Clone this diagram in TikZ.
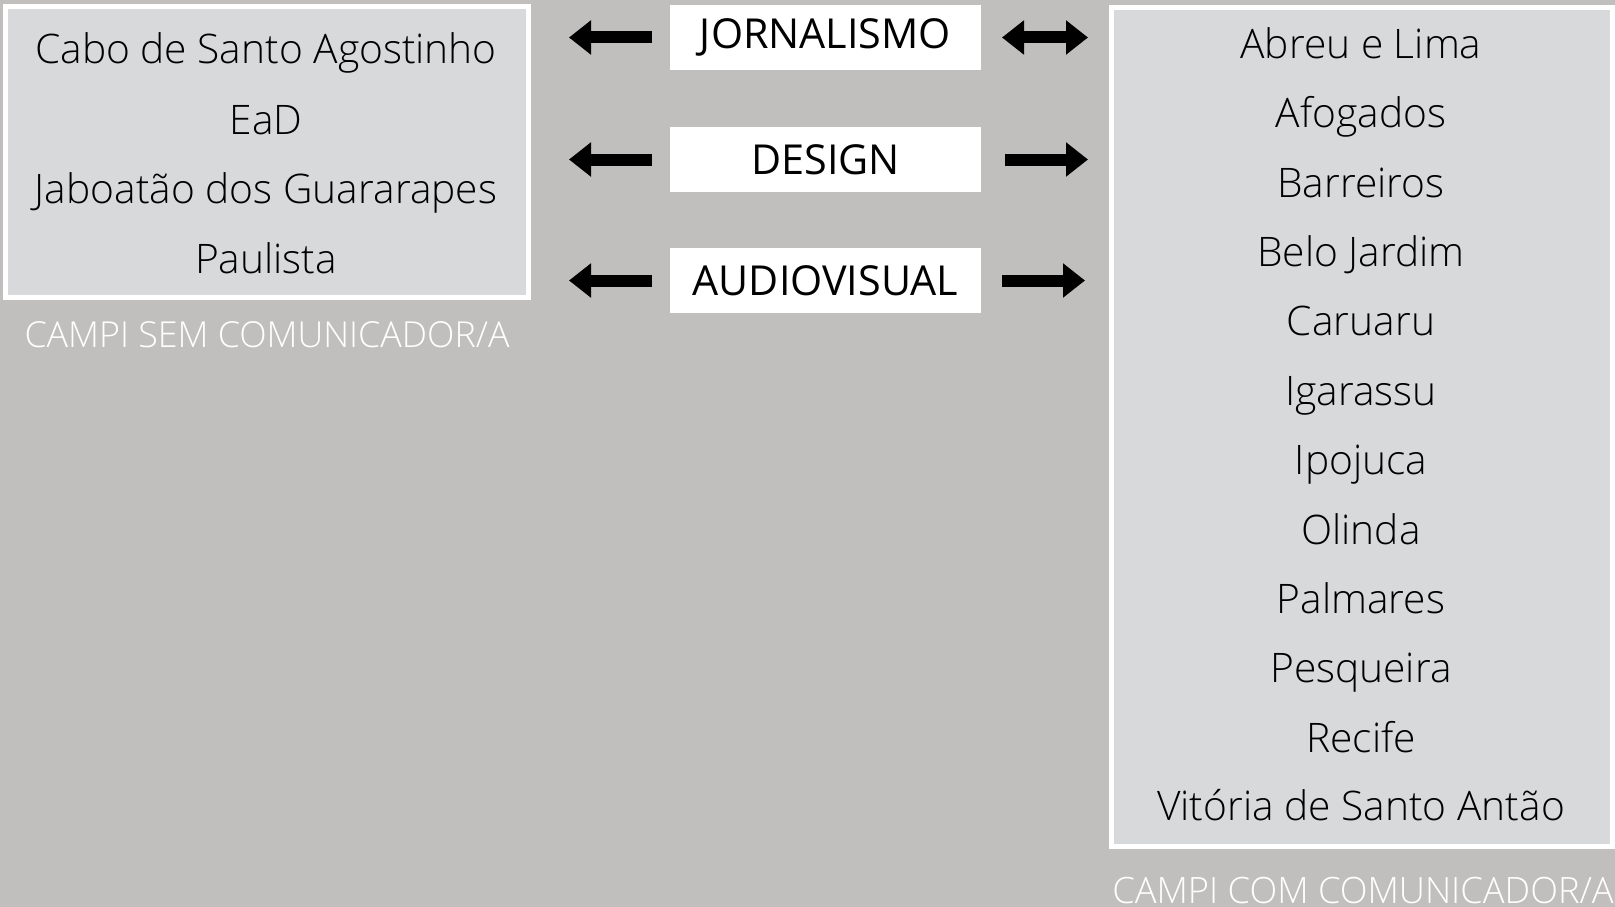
\documentclass[tikz,border=0pt]{standalone}
\usepackage{fontspec}
\setmainfont{Open Sans Light}
\newfontfamily\regfont{Open Sans}
\usetikzlibrary{arrows.meta}
\definecolor{bggrey}{RGB}{192,191,189}
\definecolor{boxgrey}{RGB}{216,217,219}
\tikzset{
  panel/.style={draw=white, line width=5pt, fill=boxgrey, inner sep=0pt, outer sep=0pt},
  item/.style={anchor=base, inner sep=0pt, font=\fontsize{40.7}{40.7}\selectfont},
  course/.style={fill=white, inner sep=0pt, outer sep=0pt, minimum width=311pt, minimum height=65pt, font=\regfont\fontsize{41.3}{41.3}\selectfont},
  caption/.style={anchor=base, inner sep=0pt, text=white},
  fat/.style={line width=12pt},
  headR/.style={-{Triangle[length=22pt,width=33pt]}},
  headLR/.style={{Triangle[length=22pt,width=33pt]}-{Triangle[length=22pt,width=33pt]}}
}
\begin{document}
\begin{tikzpicture}[x=1pt,y=-1pt]
\useasboundingbox[fill=bggrey] (0,0) rectangle (1615,907);
% panels
\node[panel, minimum width=523pt, minimum height=290pt] (lbox) at (267,152) {};
\node[panel, minimum width=501.5pt, minimum height=838.5pt] (rbox) at (1361.75,426.75) {};
% left list
\node[item] (l1) at (266,64) {Cabo de Santo Agostinho};
\node[item] (l2) at (266,134) {EaD};
\node[item] (l3) at (266,203) {Jaboatão dos Guararapes};
\node[item] (l4) at (266,273) {Paulista};
\node[caption, font=\fontsize{35.8}{35.8}\selectfont] (lcap) at (267,347) {CAMPI SEM COMUNICADOR/A};
% right list
\node[item] (r1) at (1361,59) {Abreu e Lima};
\node[item] (r2) at (1361,128) {Afogados};
\node[item] (r3) at (1361,197) {Barreiros};
\node[item] (r4) at (1361,266) {Belo Jardim};
\node[item] (r5) at (1361,335) {Caruaru};
\node[item] (r6) at (1361,405) {Igarassu};
\node[item] (r7) at (1361,474) {Ipojuca};
\node[item] (r8) at (1361,544) {Olinda};
\node[item] (r9) at (1361,613) {Palmares};
\node[item] (r10) at (1361,682) {Pesqueira};
\node[item] (r11) at (1361,752) {Recife};
\node[item] (r12) at (1361,820) {Vitória de Santo Antão};
\node[caption, font=\fontsize{36.3}{36.3}\selectfont] (rcap) at (1363,903) {CAMPI COM COMUNICADOR/A};
% course boxes
\node[course] (jor) at (825.5,37.5) {JORNALISMO};
\node[course] (des) at (825.5,159.5) {DESIGN};
\node[course] (aud) at (825.5,280.5) {AUDIOVISUAL};
% arrows
\draw[fat, headR, shorten <=18pt, shorten >=40.5pt] (jor.west) -- (jor.west -| lbox.east);
\draw[fat, headR, shorten <=18pt, shorten >=40.5pt] (des.west) -- (des.west -| lbox.east);
\draw[fat, headR, shorten <=18pt, shorten >=40.5pt] (aud.west) -- (aud.west -| lbox.east);
\draw[fat, headLR, shorten <=21pt, shorten >=23pt] (jor.east) -- (jor.east -| rbox.west);
\draw[fat, headR, shorten <=24pt, shorten >=23pt] (des.east) -- (des.east -| rbox.west);
\draw[fat, headR, shorten <=21pt, shorten >=26pt] (aud.east) -- (aud.east -| rbox.west);
\end{tikzpicture}
\end{document}
